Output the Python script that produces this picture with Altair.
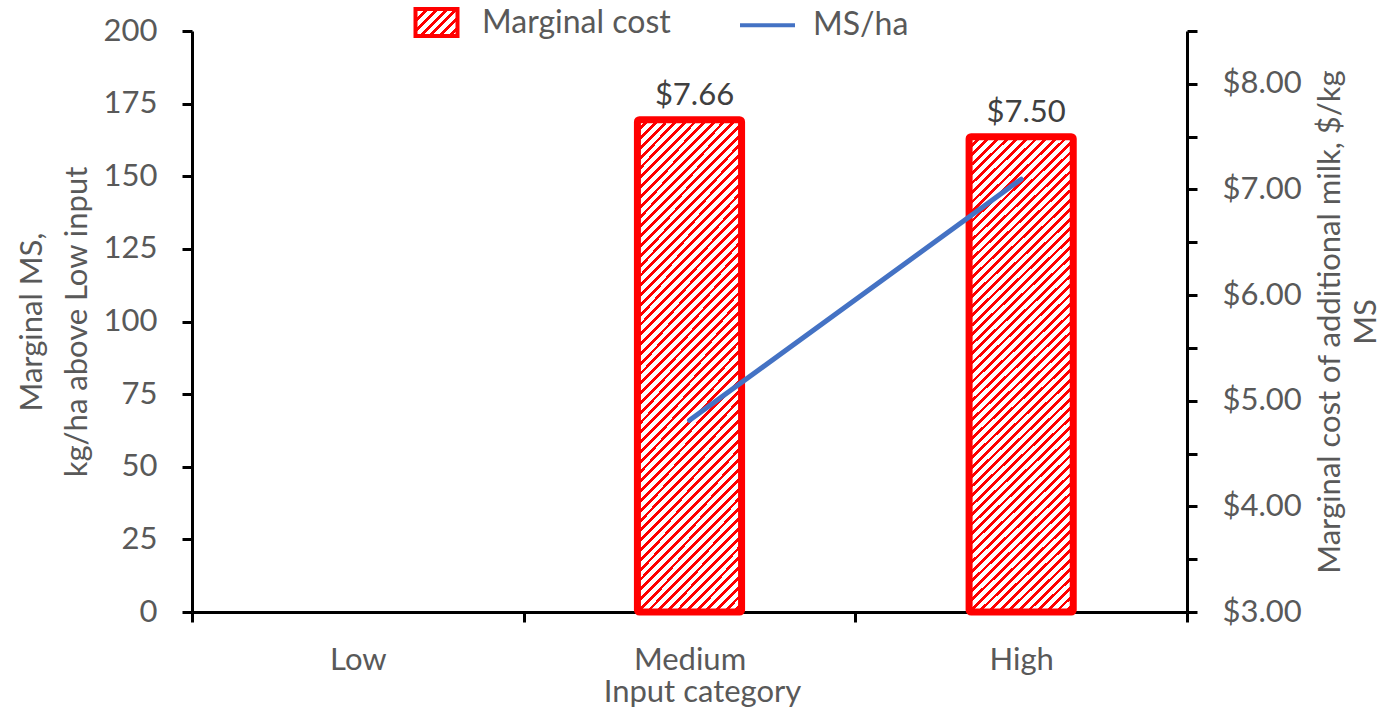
import altair as alt
import pandas as pd

# Input categories and the two series
categories = ["Low", "Medium", "High"]
marginal_cost = [None, 7.66, 7.50]   # $/kg MS (right axis, bars)
marginal_ms = [None, 66, 149]        # kg MS/ha above Low input (left axis, line)

df = pd.DataFrame({"category": categories, "cost": marginal_cost, "ms": marginal_ms})

PLOT_W, PLOT_H = 995, 581
COST_MIN, COST_MAX = 3.0, 8.5
BAND_FRAC = 0.314
RED = "#FF0000"
BLUE = "#4472C4"
GREY = "#595959"
DARK = "#404040"
FONT = "Lato"
FS = 31


def hatch_stops(w, h, period=9.7, red_frac=0.4):
    """Hard-stop linear gradient that paints '/' stripes over a w x h box."""
    norm = w * w + h * h
    x2 = w * (w + h) / norm
    y2 = h * (w + h) / norm
    n = max(1, round((w + h) / period))
    stops = []
    for k in range(n):
        a, b, c = k / n, (k + red_frac) / n, (k + 1) / n
        stops += [(a, RED), (b, RED), (b, "#FFFFFF"), (c, "#FFFFFF")]
    return x2, y2, stops


def hatch_gradient(w, h):
    x2, y2, stops = hatch_stops(w, h)
    return {
        "gradient": "linear", "x1": 0, "y1": 0, "x2": x2, "y2": y2,
        "stops": [{"offset": o, "color": c} for o, c in stops],
    }


def hatch_expr(w, h):
    x2, y2, stops = hatch_stops(w, h)
    s = ",".join("{offset:%.5f,color:'%s'}" % (o, c) for o, c in stops)
    return "{gradient:'linear',x1:0,y1:0,x2:%.5f,y2:%.5f,stops:[%s]}" % (x2, y2, s)


bar_w = BAND_FRAC * PLOT_W / 3
heights = [(v - COST_MIN) / (COST_MAX - COST_MIN) * PLOT_H for v in marginal_cost if v is not None]
bar_h = sum(heights) / len(heights)
bar_fill = hatch_gradient(bar_w, bar_h)

# legend symbol shapes: hatched box and a plain line
SYM = 3025  # 55 px reference length
rect_path = "M-0.7636,-0.4909L0.7636,-0.4909L0.7636,0.4909L-0.7636,0.4909Z"
line_path = "M-1,0L1,0"

x_enc = alt.X(
    "category:N",
    sort=categories,
    scale=alt.Scale(paddingInner=0, paddingOuter=0),
    axis=alt.Axis(
        title="Input category", labelAngle=0, tickBand="extent",
        labelPadding=23, titlePadding=2, titleX=510,
    ),
)

cost_scale = alt.Scale(domain=[COST_MIN, COST_MAX], nice=False, zero=False)
cost_ticks = [3 + 0.5 * i for i in range(12)]
cost_axis = alt.Axis(
    orient="right", values=cost_ticks,
    labelExpr="datum.value % 1 === 0 ? format(datum.value, '$.2f') : ''",
    title=["Marginal cost of additional milk, $/kg", "MS"],
    titleAngle=270, titleBaseline="top", titleAlign="center",
    titleX=128, titleY=PLOT_H / 2,
    titleLineHeight=36, labelPadding=25,
)

bars = alt.Chart(df).mark_bar(
    fill=bar_fill, stroke=RED, strokeWidth=7, strokeJoin="round",
    cornerRadius=2, width=alt.RelativeBandSize(BAND_FRAC),
).encode(
    x=x_enc,
    y=alt.Y("cost:Q", scale=cost_scale, axis=cost_axis),
    y2=alt.datum(COST_MIN),
)

labels = alt.Chart(df).mark_text(
    baseline="alphabetic", dy=-15, dx=5, font=FONT, fontSize=FS, color=DARK,
).encode(
    x=x_enc,
    y=alt.Y("cost:Q", scale=cost_scale, axis=cost_axis),
    text=alt.Text("cost:Q", format="$.2f"),
)

line = alt.Chart(df).transform_calculate(series="'MS/ha'").mark_line(
    strokeWidth=5, strokeCap="round",
).encode(
    x=x_enc,
    y=alt.Y(
        "ms:Q",
        scale=alt.Scale(domain=[0, 200], nice=False),
        axis=alt.Axis(
            orient="left", values=list(range(0, 201, 25)),
            title=["Marginal MS,", "kg/ha above Low input"],
            titleAngle=270, titleBaseline="bottom", titlePadding=10,
            titleLineHeight=45, labelPadding=25,
        ),
    ),
    color=alt.Color(
        "series:N",
        scale=alt.Scale(domain=["Marginal cost", "MS/ha"], range=[RED, BLUE]),
        legend=alt.Legend(
            title=None, orient="none", direction="horizontal",
            legendX=215, legendY=-38, padding=0,
            symbolSize=SYM, symbolStrokeWidth=4,
            symbolType=alt.ExprRef(
                "datum.label === 'MS/ha' ? '%s' : '%s'" % (line_path, rect_path)
            ),
            symbolStrokeColor=alt.ExprRef(
                "datum.label === 'MS/ha' ? '%s' : '%s'" % (BLUE, RED)
            ),
            symbolOffset=alt.ExprRef("datum.label === 'MS/ha' ? 29 : 0"),
            symbolFillColor=alt.ExprRef(hatch_expr(42, 27)),
            symbolOpacity=1,
            labelFont=FONT, labelFontSize=32, labelColor=GREY, labelLimit=400,
            labelOffset=16, columnPadding=38,
        ),
    ),
)

chart = alt.layer(
    alt.layer(bars, labels),
    line,
).resolve_scale(
    y="independent"
).properties(
    width=PLOT_W, height=PLOT_H,
    autosize=alt.AutoSizeParams(type="none"),
    padding={"left": 192, "top": 31, "right": 196, "bottom": 97},
).configure_view(
    stroke="transparent"
).configure_axis(
    domainColor="black", domainWidth=3, tickColor="black", tickWidth=3, tickSize=10,
    labelFont=FONT, labelFontSize=FS, labelColor=GREY,
    titleFont=FONT, titleFontSize=FS, titleColor=GREY, titleFontWeight="normal",
    grid=False, zindex=1,
)

chart.save("out.html", embed_options={"renderer": "svg", "actions": False})
